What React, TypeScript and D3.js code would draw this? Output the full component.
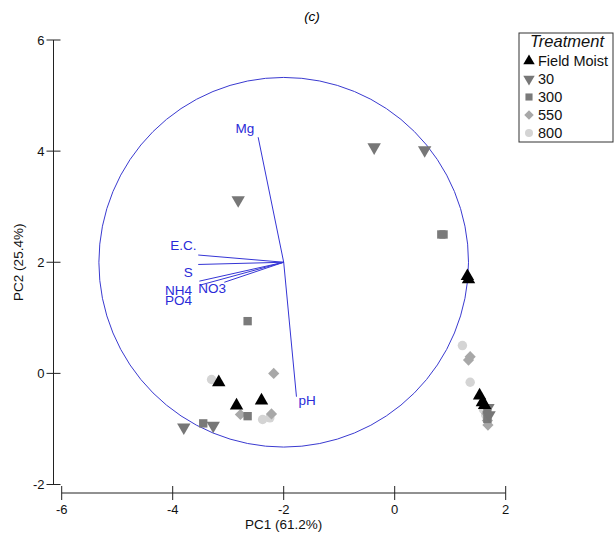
import React from "react";
import * as d3 from "d3";

const xTicks = [-6, -4, -2, 0, 2];
const yTicks = [-2, 0, 2, 4, 6];

const fieldMoist: [number, number][] = [
  [-3.17, -0.16], [-2.85, -0.58], [-2.4, -0.49], [1.31, 1.75], [1.33, 1.69],
  [1.53, -0.4], [1.58, -0.52], [1.62, -0.57],
];
const t30: [number, number][] = [
  [-2.82, 3.12], [-0.37, 4.07], [0.54, 4.02], [-3.8, -0.97], [-3.27, -0.94],
  [1.68, -0.62], [1.7, -0.75],
];
const t300: [number, number][] = [
  [0.84, 2.5], [0.88, 2.5], [-2.65, 0.94], [-3.45, -0.9], [-2.65, -0.77],
  [1.67, -0.67], [1.67, -0.82],
];
const t550: [number, number][] = [
  [-2.18, 0.0], [-2.22, -0.73], [-2.78, -0.74], [1.33, 0.24], [1.36, 0.3],
  [1.66, -0.72], [1.67, -0.85], [1.68, -0.93],
];
const t800: [number, number][] = [
  [-3.3, -0.11], [-2.38, -0.83], [-2.25, -0.8], [1.22, 0.5], [1.36, -0.16],
  [1.6, -0.65], [1.64, -0.75],
];

const vecOrigin: [number, number] = [-2, 2];
const vectors: { name: string; end: [number, number]; lab: [number, number]; anchor: string }[] = [
  { name: "Mg", end: [-2.46, 4.25], lab: [-2.7, 4.33], anchor: "middle" },
  { name: "pH", end: [-1.77, -0.42], lab: [-1.58, -0.57], anchor: "middle" },
  { name: "E.C.", end: [-3.54, 2.13], lab: [-3.57, 2.22], anchor: "end" },
  { name: "S", end: [-3.54, 1.96], lab: [-3.64, 1.74], anchor: "end" },
  { name: "NH4", end: [-3.52, 1.66], lab: [-3.65, 1.41], anchor: "end" },
  { name: "NO3", end: [-3.07, 1.64], lab: [-3.54, 1.45], anchor: "start" },
  { name: "PO4", end: [-3.5, 1.59], lab: [-3.65, 1.23], anchor: "end" },
];
const circleCenter: [number, number] = [-2, 2];
const circleRadius = 3.33;

const legendItems = [
  { label: "Field Moist", shape: "tri", color: "#000000", data: fieldMoist },
  { label: "30", shape: "tridown", color: "#777777", data: t30 },
  { label: "300", shape: "square", color: "#7a7a7a", data: t300 },
  { label: "550", shape: "diamond", color: "#a8a8a8", data: t550 },
  { label: "800", shape: "circle", color: "#d4d4d4", data: t800 },
];

const FONT = "Liberation Sans, Arial, sans-serif";
const BLUE = "#2a2ad8";

function symbolPath(shape: string): string {
  switch (shape) {
    case "tri":
    case "tridown":
      return d3.symbol(d3.symbolTriangle, 78)()!;
    case "square":
      return d3.symbol(d3.symbolSquare, 70)()!;
    case "diamond":
      return d3.symbol(d3.symbolDiamond2, 80)()!;
    default:
      return d3.symbol(d3.symbolCircle, 70)()!;
  }
}

export default function App() {
  const W = 614, H = 538;
  const x = d3.scaleLinear().domain([-6, 2]).range([61.7, 505.7]);
  const y = d3.scaleLinear().domain([-2, 6]).range([484.5, 40]);
  const yAxisX = 53.5;
  const xAxisY = 493;
  const rPx = x(circleCenter[0] + circleRadius) - x(circleCenter[0]);

  return (
    <svg width={W} height={H} style={{ position: "absolute", left: 0, top: 0, background: "#fff" }}
      fontFamily={FONT}>
      <rect width={W} height={H} fill="#fff" />
      <text x={312} y={21} textAnchor="middle" fontSize={13.5} fontStyle="italic">(c)</text>

      {/* Y axis */}
      <line x1={yAxisX} x2={yAxisX} y1={y(6)} y2={y(-2)} stroke="#222" />
      {yTicks.map((t) => (
        <g key={"y" + t}>
          <line x1={yAxisX - 7} x2={yAxisX + 7} y1={y(t)} y2={y(t)} stroke="#222" />
          <text x={yAxisX - 9} y={y(t) + 4.5} textAnchor="end" fontSize={13} fill="#111">{t}</text>
        </g>
      ))}
      <text transform={`translate(23,${y(2)}) rotate(-90)`} textAnchor="middle" fontSize={13.5} fill="#111">PC2 (25.4%)</text>

      {/* X axis */}
      <line x1={x(-6)} x2={x(2)} y1={xAxisY} y2={xAxisY} stroke="#222" />
      {xTicks.map((t) => (
        <g key={"x" + t}>
          <line x1={x(t)} x2={x(t)} y1={xAxisY - 7} y2={xAxisY + 7} stroke="#222" />
          <text x={x(t)} y={xAxisY + 21} textAnchor="middle" fontSize={13} fill="#111">{t}</text>
        </g>
      ))}
      <text x={x(-2)} y={529} textAnchor="middle" fontSize={13.5} fill="#111">PC1 (61.2%)</text>

      {/* correlation circle */}
      <circle cx={x(circleCenter[0])} cy={y(circleCenter[1])} r={rPx} fill="none" stroke="#3a3ad0" strokeWidth={1} />

      {/* vectors */}
      {vectors.map((v) => (
        <line key={"v" + v.name} x1={x(vecOrigin[0])} y1={y(vecOrigin[1])} x2={x(v.end[0])} y2={y(v.end[1])}
          stroke="#3535d5" strokeWidth={1} />
      ))}
      {vectors.map((v) => (
        <text key={"l" + v.name} x={x(v.lab[0])} y={y(v.lab[1])} textAnchor={v.anchor} fontSize={13.5} fill={BLUE}>
          {v.name}
        </text>
      ))}

      {/* points */}
      {legendItems.slice().reverse().map((it) =>
        it.data.map((p, i) => (
          <path key={it.label + i} d={symbolPath(it.shape)} fill={it.color}
            transform={`translate(${x(p[0])},${y(p[1])})${it.shape === "tridown" ? " rotate(180)" : ""}`} />
        ))
      )}

      {/* legend */}
      <rect x={519} y={33} width={94} height={109} fill="#fff" stroke="#333" strokeWidth={1} />
      <text x={567} y={47} textAnchor="middle" fontSize={16.5} fontStyle="italic" fill="#111">Treatment</text>
      {legendItems.map((it, i) => {
        const cy = 61 + i * 18;
        return (
          <g key={"lg" + it.label}>
            <path d={symbolPath(it.shape)} fill={it.color}
              transform={`translate(529,${cy})${it.shape === "tridown" ? " rotate(180)" : ""} scale(0.85)`} />
            <text x={538} y={cy + 5} fontSize={14.5} fill="#111">{it.label}</text>
          </g>
        );
      })}
    </svg>
  );
}
